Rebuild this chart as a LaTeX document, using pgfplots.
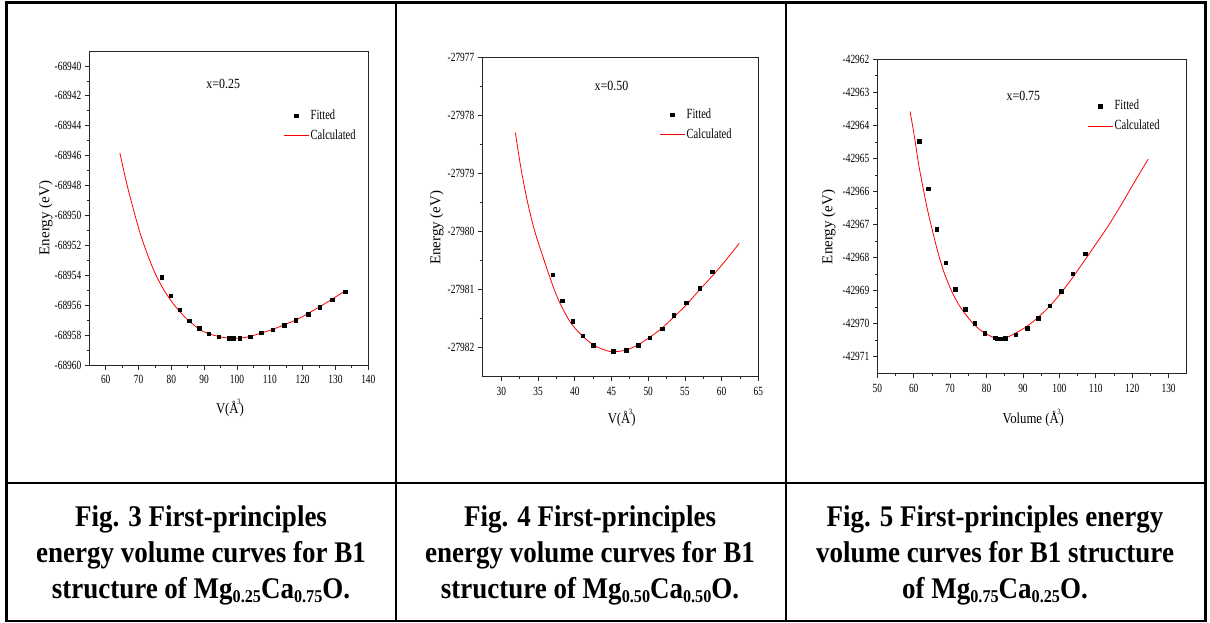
\documentclass[border=0pt]{standalone}
\usepackage{fontspec}
\setmainfont{Liberation Serif}
\newfontfamily\narrowtm[FakeStretch=0.75]{Liberation Serif}
\newfontfamily\semitm[FakeStretch=0.85]{Liberation Serif}
\newfontfamily\captm[FakeStretch=0.9]{Liberation Serif}
\usepackage{pgfplots}
\usepackage{pgfplotstable}
\pgfplotsset{compat=1.18}

% Energies are kept relative to a round base so that pgfplots' float
% precision does not wobble the points (-68960, -27983, -42972 eV).
% The tick labels carry the absolute energies.

% x = 0.25 : E column = energy + 68960
\pgfplotstableread{
V      E
77.0   5.86
79.8   4.63
82.6   3.70
85.5   2.96
88.4   2.45
91.4   2.09
94.4   1.89
97.6   1.80
98.8   1.78
100.8  1.80
104.1  1.89
107.4  2.16
110.9  2.36
114.3  2.67
117.9  3.01
121.6  3.41
125.2  3.88
129.0  4.37
132.9  4.90
}\fitA
\pgfplotstableread{
V      E
64.3   14.19
66.4   12.14
68.5   10.36
70.5   8.80
72.6   7.47
74.6   6.35
76.6   5.46
78.7   4.68
81.7   3.79
84.8   3.06
88.9   2.34
91.9   2.06
95.0   1.88
98.0   1.79
101.1  1.80
104.1  1.92
110.3  2.34
114.3  2.68
118.4  3.06
121.5  3.43
125.6  3.95
129.1  4.42
133.0  4.97
}\calcA

% x = 0.50 : E column = energy + 27983
\pgfplotstableread{
V     E
37.0  2.25
38.3  1.80
39.7  1.45
41.1  1.20
42.5  1.03
45.2  0.93
47.0  0.95
48.6  1.03
50.2  1.16
51.9  1.32
53.5  1.55
55.2  1.77
57.0  2.02
58.7  2.30
}\fitB
\pgfplotstableread{
V     E
31.9  4.70
32.7  4.06
33.6  3.48
34.5  3.02
35.5  2.62
36.4  2.28
37.3  1.96
38.2  1.70
39.5  1.41
40.9  1.21
42.5  1.04
44.1  0.95
45.2  0.92
47.0  0.95
48.6  1.04
50.2  1.17
51.8  1.32
53.5  1.52
55.2  1.73
57.0  1.99
58.9  2.25
60.7  2.52
62.4  2.79
}\calcB

% x = 0.75 : E column = energy + 42972
\pgfplotstableread{
V      E
61.5   7.53
63.9   6.08
66.3   4.86
68.8   3.85
71.4   3.04
74.1   2.44
76.8   2.01
79.5   1.71
82.3   1.58
82.8   1.55
83.9   1.55
85.1   1.56
88.0   1.67
91.1   1.87
94.2   2.16
97.3   2.55
100.5  2.99
103.7  3.51
107.1  4.12
}\fitC
\pgfplotstableread{
V      E
59.0   8.42
60.2   7.66
61.3   6.86
62.5   6.15
63.8   5.44
65.2   4.79
66.6   4.18
68.4   3.53
70.7   2.92
73.0   2.47
76.2   2.02
78.9   1.76
82.2   1.57
84.0   1.54
86.3   1.62
90.4   1.87
93.6   2.14
96.8   2.47
100.0  2.87
103.2  3.33
106.4  3.83
109.9  4.39
113.3  4.94
117.0  5.60
120.7  6.30
124.4  6.98
}\calcC

\pgfplotsset{
  evplot/.style={
    scale only axis,
    axis line style={black!85, line width=0.8pt},
    tick style={black!85, line width=0.8pt},
    major tick length=4.5pt, minor tick length=2.5pt,
    tick align=outside,
    xtick pos=bottom, ytick pos=left,
    minor x tick num=1, minor y tick num=1,
    ticklabel style={font=\narrowtm\fontsize{12.5}{13}\selectfont},
    xticklabel style={yshift=-2.5pt},
    /pgf/number format/assume math mode=true,
    xlabel style={font=\semitm\fontsize{15}{16}\selectfont, anchor=center},
    ylabel style={font=\fontsize{15}{16}\selectfont, anchor=center},
    legend cell align=left,
    legend style={draw=none, fill=none, anchor=north west,
      font=\narrowtm\fontsize{14}{15}\selectfont,
      inner sep=0pt, row sep=5pt,
      nodes={inner sep=1.5pt, text height=9.5pt, text depth=2.5pt}},
  },
  fitted/.style={only marks, mark=square*, mark size=1.8pt, black,
    legend image code/.code={\draw[##1] plot coordinates {(12.5pt,0pt)};}},
  calc/.style={red, line width=0.8pt, smooth, mark=none,
    legend image code/.code={\draw[##1, red, line width=0.8pt] (0pt,0pt) -- (25pt,0pt);}},
}

\newcommand\Ang{\AA\kern-1.5pt\raisebox{1.3ex}{\fontsize{8}{8}\selectfont 3}\kern-1pt}
\newcommand\sub[1]{\raisebox{-0.3ex}{\fontsize{18}{18}\selectfont #1}}

\begin{document}
\begin{tikzpicture}[x=1pt,y=1pt]
\useasboundingbox (0,0) rectangle (1210,622);

% table frame
\draw[line width=2.5pt] (6.7,619.3) rectangle (1205.5,1);
\draw[line width=2pt] (395.5,619.3) -- (395.5,1);
\draw[line width=2pt] (785.5,619.3) -- (785.5,1);
\draw[line width=2pt] (6.7,139) -- (1205.5,139);

% ---- x = 0.25
\begin{axis}[evplot,
  at={(89.3pt,257pt)}, anchor=south west,
  width=279pt, height=314pt,
  xmin=55, xmax=140, ymin=0, ymax=21,
  xtick={60,70,...,140},
  ytick={0,2,...,20},
  yticklabels={-68960,-68958,-68956,-68954,-68952,-68950,-68948,-68946,-68944,-68942,-68940},
  xlabel={V(\Ang)}, ylabel={Energy (eV)},
  xlabel style={at={(axis description cs:0.504,-0.137)}},
  ylabel style={at={(axis description cs:-0.156,0.468)}},
  legend style={at={(0.695,0.819)}},
]
\addplot[fitted] table[x=V,y=E] {\fitA};
\addlegendentry{Fitted}
\addplot[calc] table[x=V,y=E] {\calcA};
\addlegendentry{Calculated}
\node[font=\semitm\fontsize{14}{15}\selectfont] at (axis description cs:0.480,0.895) {x=0.25};
\end{axis}

% ---- x = 0.50
\begin{axis}[evplot,
  at={(482.3pt,245.3pt)}, anchor=south west,
  width=276pt, height=319.4pt,
  xmin=27.4, xmax=65, ymin=0.49, ymax=6,
  xtick={30,35,...,65},
  ytick={1,2,...,6},
  yticklabels={-27982,-27981,-27980,-27979,-27978,-27977},
  xlabel={V(\Ang)}, ylabel={Energy (eV)},
  xlabel style={at={(axis description cs:0.505,-0.129)}},
  ylabel style={at={(axis description cs:-0.165,0.466)}},
  legend style={at={(0.641,0.844)}},
]
\addplot[fitted] table[x=V,y=E] {\fitB};
\addlegendentry{Fitted}
\addplot[calc] table[x=V,y=E] {\calcB};
\addlegendentry{Calculated}
\node[font=\semitm\fontsize{14}{15}\selectfont] at (axis description cs:0.468,0.910) {x=0.50};
\end{axis}

% ---- x = 0.75
\begin{axis}[evplot,
  at={(877.3pt,248.7pt)}, anchor=south west,
  width=309.5pt, height=314pt,
  xmin=50, xmax=135, ymin=0.5, ymax=10,
  xtick={50,60,...,130},
  ytick={1,2,...,10},
  yticklabels={-42971,-42970,-42969,-42968,-42967,-42966,-42965,-42964,-42963,-42962},
  xlabel={Volume (\Ang)}, ylabel={Energy (eV)},
  xlabel style={at={(axis description cs:0.504,-0.142)}},
  ylabel style={at={(axis description cs:-0.157,0.466)}},
  legend style={at={(0.678,0.876)}},
]
\addplot[fitted] table[x=V,y=E] {\fitC};
\addlegendentry{Fitted}
\addplot[calc] table[x=V,y=E] {\calcC};
\addlegendentry{Calculated}
\node[font=\semitm\fontsize{14}{15}\selectfont] at (axis description cs:0.472,0.883) {x=0.75};
\end{axis}

% captions
\begin{scope}[every node/.style={align=center, font=\captm\bfseries\fontsize{30}{36}\selectfont}]
\node at (201,67) {Fig. 3 First-principles\\energy volume curves for B1\\structure of Mg\sub{0.25}Ca\sub{0.75}O.};
\node at (590,67) {Fig. 4 First-principles\\energy volume curves for B1\\structure of Mg\sub{0.50}Ca\sub{0.50}O.};
\node at (995,67) {Fig. 5 First-principles energy\\volume curves for B1 structure\\of Mg\sub{0.75}Ca\sub{0.25}O.};
\end{scope}
\end{tikzpicture}
\end{document}
